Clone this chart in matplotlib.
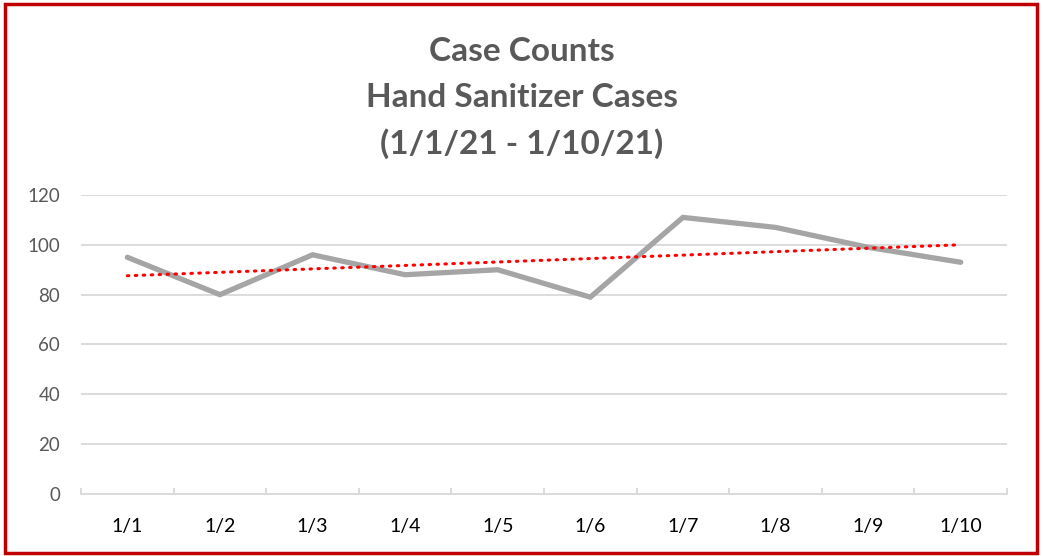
import numpy as np
import matplotlib.pyplot as plt
from matplotlib.patches import Rectangle
from matplotlib.ticker import FixedLocator

# Daily case counts
days = ['1/1', '1/2', '1/3', '1/4', '1/5', '1/6', '1/7', '1/8', '1/9', '1/10']
cases = [95, 80, 96, 88, 90, 79, 111, 107, 99, 93]

plt.rcParams['font.family'] = ['Lato', 'DejaVu Sans']

fig = plt.figure(figsize=(10.43, 5.56), dpi=100)
ax = fig.add_axes([0.0777, 0.1115, 0.8878, 0.5378])

x = np.arange(len(days))
ax.plot(x, cases, color='#A5A5A5', lw=3.8, solid_joinstyle='miter', solid_capstyle='round', zorder=3)

# linear trendline
slope, intercept = np.polyfit(x, cases, 1)
ax.plot(x, slope * x + intercept, color='#FF0000', lw=2.2, linestyle=(0, (0.5, 2.1)),
        dash_capstyle='round', zorder=4)

ax.set_xlim(-0.5, len(days) - 0.5)
ax.set_ylim(0, 120)
ax.set_yticks(range(0, 121, 20))
ax.set_xticks(x)
ax.set_xticklabels(days)
ax.xaxis.set_minor_locator(FixedLocator(np.arange(-0.5, len(days), 1)))

ax.grid(axis='y', color='#D9D9D9', lw=1.3, zorder=0)
ax.set_axisbelow(True)
for s in ['top', 'right', 'left']:
    ax.spines[s].set_visible(False)
ax.spines['bottom'].set_color('#D9D9D9')
ax.spines['bottom'].set_linewidth(1.3)

ax.tick_params(axis='y', length=0, pad=15, labelsize=13.5, labelcolor='#595959')
ax.tick_params(axis='x', which='major', length=0, pad=17, labelsize=14, labelcolor='#000000')
ax.tick_params(axis='x', which='minor', direction='in', length=4, width=1.3, color='#D9D9D9')

title_lines = ['Case Counts', 'Hand Sanitizer Cases', '(1/1/21 - 1/10/21)']
for ty, line in zip([0.908, 0.825, 0.742], title_lines):
    fig.text(0.5, ty, line, ha='center', va='center', fontsize=24,
             fontweight='bold', color='#595959')

# red frame around the chart
fig.patches.append(Rectangle((0.0045, 0.006), 0.9895, 0.986, transform=fig.transFigure,
                             fill=False, edgecolor='#C00000', lw=2.5))

plt.savefig('out.png', dpi=100)
